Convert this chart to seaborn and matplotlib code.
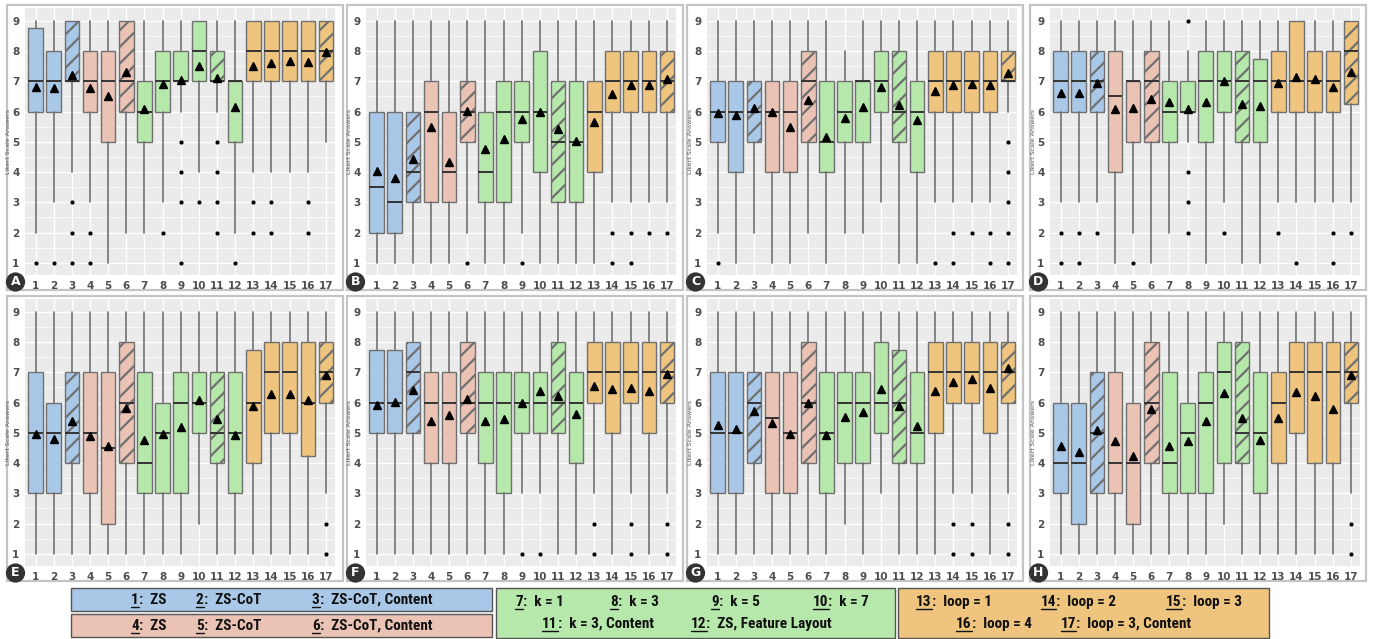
import matplotlib
matplotlib.use("Agg")
import matplotlib.pyplot as plt
import seaborn as sns
from matplotlib import font_manager
from matplotlib.patches import Rectangle
from matplotlib.lines import Line2D

# ---- data (17 configurations each) ----
configs = list(range(1, 18))
hatched = [3, 6, 11, 17]
panel_names = ["A", "B", "C", "D", "E", "F", "G", "H"]

A_lo = [2, 3, 4, 3, 1, 2, 2, 3, 6, 4, 6, 2, 4, 4, 4, 4, 5]
A_q1 = [6, 6, 7, 6, 5, 6, 5, 6, 7, 7, 7, 5, 7, 7, 7, 7, 7]
A_md = [7, 7, 7, 7, 7, 7, 6, 7, 7, 8, 7, 7, 8, 8, 8, 8, 8]
A_q3 = [8.75, 8, 9, 8, 8, 9, 7, 8, 8, 9, 8, 7, 9, 9, 9, 9, 9]
A_hi = [9, 9, 9, 9, 9, 9, 9, 9, 9, 9, 9, 9, 9, 9, 9, 9, 9]
A_mean = [6.82, 6.78, 7.2, 6.78, 6.52, 7.3, 6.1, 6.92, 7.05, 7.5, 7.1, 6.15, 7.52, 7.6, 7.68, 7.65, 7.98]
A_out = [[1], [1], [3, 2, 1], [2, 1], [], [], [], [2], [5, 4, 3, 1], [3], [5, 4, 3, 2], [1], [3, 2], [3, 2], [], [3, 2], []]

B_lo = [1, 1, 1, 1, 1, 2, 1, 1, 2, 1, 1, 1, 1, 3, 3, 3, 3]
B_q1 = [2, 2, 3, 3, 3, 5, 3, 3, 5, 4, 3, 3, 4, 6, 6, 6, 6]
B_md = [3.5, 3, 4, 6, 4, 6, 4, 6, 6, 6, 5, 5, 6, 7, 7, 7, 7]
B_q3 = [6, 6, 6, 7, 6, 7, 6, 7, 7, 8, 7, 7, 7, 8, 8, 8, 8]
B_hi = [9, 9, 9, 9, 9, 9, 9, 9, 9, 9, 9, 9, 9, 9, 9, 9, 9]
B_mean = [4.05, 3.82, 4.42, 5.48, 4.33, 6.02, 4.75, 5.1, 5.75, 5.98, 5.42, 5.02, 5.65, 6.58, 6.87, 6.88, 7.08]
B_out = [[], [], [], [], [], [1], [], [], [1], [], [], [], [], [2, 1], [2, 1], [2], [2]]

C_lo = [2, 1, 2, 1, 1, 2, 1, 2, 2, 3, 1, 1, 3, 3, 3, 3, 6]
C_q1 = [5, 4, 5, 4, 4, 5, 4, 5, 5, 6, 5, 4, 6, 6, 6, 6, 7]
C_md = [6, 6, 6, 6, 6, 7, 5, 6, 7, 7, 6, 6, 7, 7, 7, 7, 7]
C_q3 = [7, 7, 7, 7, 7, 8, 7, 7, 7, 8, 8, 7, 8, 8, 8, 8, 8]
C_hi = [9, 9, 9, 9, 9, 9, 9, 8, 9, 9, 9, 9, 9, 9, 9, 9, 9]
C_mean = [5.95, 5.88, 6.12, 5.98, 5.5, 6.38, 5.15, 5.8, 6.15, 6.82, 6.2, 5.72, 6.68, 6.87, 6.9, 6.87, 7.28]
C_out = [[1], [], [], [], [], [], [], [], [], [], [], [], [1], [2, 1], [2], [2, 1], [5, 4, 3, 2, 1]]

D_lo = [3, 3, 3, 1, 2, 1, 2, 5, 1, 3, 1, 1, 3, 3, 3, 3, 3]
D_q1 = [6, 6, 6, 4, 5, 5, 5, 6, 5, 6, 5, 5, 6, 6, 6, 6, 6.25]
D_md = [7, 7, 7, 6.5, 7, 7, 6, 6, 7, 7, 7, 7, 7, 7, 7, 7, 8]
D_q3 = [8, 8, 8, 8, 7, 8, 7, 7, 8, 8, 8, 7.75, 8, 9, 8, 8, 9]
D_hi = [9, 9, 9, 9, 9, 9, 9, 8, 9, 9, 9, 9, 9, 9, 9, 9, 9]
D_mean = [6.6, 6.6, 6.95, 6.08, 6.12, 6.42, 6.3, 6.1, 6.3, 7.02, 6.25, 6.18, 6.95, 7.15, 7.08, 6.82, 7.3]
D_out = [[2, 1], [2, 1], [2], [], [1], [], [], [9, 4, 3, 2], [], [2], [], [], [2], [1], [], [2, 1], [2]]

E_lo = [1, 1, 1, 1, 1, 1, 1, 1, 1, 2, 1, 1, 1, 1, 1, 1, 3]
E_q1 = [3, 3, 4, 3, 2, 4, 3, 3, 3, 5, 4, 3, 4, 5, 5, 4.25, 6]
E_md = [5, 5, 5, 5, 4.5, 6, 4, 5, 6, 6, 5, 5, 6, 7, 7, 6, 7]
E_q3 = [7, 6, 7, 7, 7, 8, 7, 6, 7, 7, 7, 7, 7.75, 8, 8, 8, 8]
E_hi = [9, 9, 9, 9, 9, 9, 9, 9, 9, 9, 9, 9, 9, 9, 9, 9, 9]
E_mean = [4.95, 4.8, 5.4, 4.88, 4.55, 5.82, 4.75, 4.97, 5.18, 6.07, 5.45, 4.92, 5.88, 6.27, 6.27, 6.08, 6.92]
E_out = [[], [], [], [], [], [], [], [], [], [], [], [], [], [], [], [], [2, 1]]

F_lo = [1, 1, 1, 1, 1, 1, 1, 1, 3, 3, 1, 1, 3, 1, 3, 1, 3]
F_q1 = [5, 5, 5, 4, 4, 5, 4, 3, 5, 5, 5, 4, 6, 5, 6, 5, 6]
F_md = [6, 6, 7, 6, 6, 6, 6, 6, 6, 6, 6, 6, 7, 7, 7, 7, 7]
F_q3 = [7.75, 7.75, 8, 7, 7, 8, 7, 7, 7, 7, 8, 7, 8, 8, 8, 8, 8]
F_hi = [9, 9, 9, 9, 9, 9, 9, 9, 9, 9, 9, 9, 9, 9, 9, 9, 9]
F_mean = [5.92, 6.03, 6.42, 5.38, 5.6, 6.12, 5.38, 5.47, 6.0, 6.38, 6.2, 5.63, 6.55, 6.45, 6.47, 6.38, 6.95]
F_out = [[], [], [], [], [], [], [], [], [1], [1], [], [], [2, 1], [], [2, 1], [], [2, 1]]

G_lo = [1, 1, 1, 1, 1, 1, 1, 2, 1, 3, 1, 1, 1, 3, 3, 1, 3]
G_q1 = [3, 3, 4, 3, 3, 4, 3, 4, 4, 5, 4, 4, 5, 6, 6, 5, 6]
G_md = [5, 5, 6, 5.5, 5, 6, 5, 6, 6, 6, 6, 5, 7, 7, 7, 7, 7]
G_q3 = [7, 7, 7, 7, 7, 8, 7, 7, 7, 8, 7.75, 7, 8, 8, 8, 8, 8]
G_hi = [9, 9, 9, 9, 9, 9, 9, 9, 9, 9, 9, 9, 9, 9, 9, 9, 9]
G_mean = [5.27, 5.12, 5.72, 5.32, 4.95, 5.97, 4.92, 5.52, 5.7, 6.45, 5.9, 5.22, 6.37, 6.67, 6.78, 6.48, 7.15]
G_out = [[], [], [], [], [], [], [], [], [], [], [], [], [], [2, 1], [2, 1], [], [2, 1]]

H_lo = [1, 1, 1, 1, 1, 1, 1, 1, 1, 2, 1, 1, 1, 1, 1, 1, 3]
H_q1 = [3, 2, 3, 3, 2, 4, 3, 3, 3, 4, 4, 3, 4, 5, 4, 4, 6]
H_md = [4, 4, 5, 4, 4, 6, 4, 5, 6, 7, 5, 5, 6, 7, 7, 7, 7]
H_q3 = [6, 6, 7, 7, 6, 8, 7, 6, 7, 8, 8, 7, 7, 8, 8, 8, 8]
H_hi = [9, 9, 9, 9, 9, 9, 9, 9, 9, 9, 9, 9, 9, 9, 9, 9, 9]
H_mean = [4.55, 4.37, 5.1, 4.73, 4.23, 5.8, 4.55, 4.73, 5.4, 6.32, 5.48, 4.75, 5.48, 6.35, 6.23, 5.8, 6.9]
H_out = [[], [], [], [], [], [], [], [], [], [], [], [], [], [], [], [], [2, 1]]

panels = {
    "A": (A_lo, A_q1, A_md, A_q3, A_hi, A_mean, A_out),
    "B": (B_lo, B_q1, B_md, B_q3, B_hi, B_mean, B_out),
    "C": (C_lo, C_q1, C_md, C_q3, C_hi, C_mean, C_out),
    "D": (D_lo, D_q1, D_md, D_q3, D_hi, D_mean, D_out),
    "E": (E_lo, E_q1, E_md, E_q3, E_hi, E_mean, E_out),
    "F": (F_lo, F_q1, F_md, F_q3, F_hi, F_mean, F_out),
    "G": (G_lo, G_q1, G_md, G_q3, G_hi, G_mean, G_out),
    "H": (H_lo, H_q1, H_md, H_q3, H_hi, H_mean, H_out),
}

# legend texts: (number, label)
legend_blue = [("1", "ZS"), ("2", "ZS-CoT"), ("3", "ZS-CoT, Content")]
legend_pink = [("4", "ZS"), ("5", "ZS-CoT"), ("6", "ZS-CoT, Content")]
legend_green1 = [("7", "k = 1"), ("8", "k = 3"), ("9", "k = 5"), ("10", "k = 7")]
legend_green2 = [("11", "k = 3, Content"), ("12", "ZS, Feature Layout")]
legend_orange1 = [("13", "loop = 1"), ("14", "loop = 2"), ("15", "loop = 3")]
legend_orange2 = [("16", "loop = 4"), ("17", "loop = 3, Content")]

BLUE, PINK, GREEN, ORANGE = "#A9C8E8", "#EBC3B4", "#B5E8AA", "#EEC47F"
group_color = [BLUE] * 3 + [PINK] * 3 + [GREEN] * 6 + [ORANGE] * 5

# ---- style ----
sns.set_theme(style="darkgrid", rc={
    "axes.facecolor": "#EBEBEB",
    "grid.color": "white",
    "hatch.linewidth": 1.6,
})

installed = {f.name for f in font_manager.fontManager.ttflist}
legend_font = "DejaVu Sans"
for cand in ["Liberation Sans Narrow", "Roboto Condensed", "DejaVu Sans Condensed", "Liberation Sans"]:
    if cand in installed:
        legend_font = cand
        break

W, H = 1374, 639
fig = plt.figure(figsize=(W / 100, H / 100), dpi=100)
fig.patch.set_facecolor("white")

ax_left = [25, 366, 707, 1050]
ax_top = [8, 299]
ax_w, ax_h = 310, 267
frame_left = [7, 347, 687, 1030]
frame_top = [5, 296]
frame_w, frame_h = 336, 285

for i, name in enumerate(panel_names):
    row, col = divmod(i, 4)
    # panel frame
    fig.add_artist(Rectangle((frame_left[col] / W, 1 - (frame_top[row] + frame_h) / H),
                             frame_w / W, frame_h / H, transform=fig.transFigure,
                             facecolor="white", edgecolor="#C4C4C4", lw=1.6, zorder=0))
    ax = fig.add_axes([ax_left[col] / W, 1 - (ax_top[row] + ax_h) / H, ax_w / W, ax_h / H])
    lo, q1, md, q3, hi, mean, out = panels[name]
    stats = []
    for k in range(17):
        stats.append({"whislo": lo[k], "q1": q1[k], "med": md[k], "q3": q3[k],
                      "whishi": hi[k], "mean": mean[k], "fliers": out[k]})
    bp = ax.bxp(stats, positions=configs, widths=0.8, patch_artist=True,
                showmeans=True, showcaps=False,
                boxprops=dict(edgecolor="#707070", linewidth=1.0),
                medianprops=dict(color="#333333", linewidth=1.4),
                whiskerprops=dict(color="#6F6F6F", linewidth=1.2),
                meanprops=dict(marker="^", markerfacecolor="black", markeredgecolor="black", markersize=5.5),
                flierprops=dict(marker="o", markerfacecolor="black", markeredgecolor="black", markersize=2))
    for k, box in enumerate(bp["boxes"]):
        box.set_facecolor(group_color[k])
        if configs[k] in hatched:
            box.set_hatch("//")
    ax.set_xlim(0.42, 17.5)
    ax.set_ylim(0.6, 9.42)
    ax.set_yticks(range(1, 10))
    ax.set_yticks([x + 0.5 for x in range(1, 9)], minor=True)
    ax.set_xticks(configs)
    ax.set_xticklabels([str(c) for c in configs])
    ax.grid(which="major", color="white", linewidth=1.0)
    ax.grid(which="minor", axis="y", color="white", linewidth=0.5)
    ax.tick_params(axis="both", which="major", labelsize=7.5, labelcolor="#4D4D4D",
                   length=2.5, width=0.6, color="#333333", pad=1.5)
    ax.tick_params(which="minor", length=0)
    for lab in ax.get_xticklabels() + ax.get_yticklabels():
        lab.set_fontweight("bold")
    ax.set_ylabel("Likert Scale Answers", fontsize=4.5, color="#555555", labelpad=1)
    ax.set_xlabel("")
    for s in ax.spines.values():
        s.set_visible(False)
    # panel letter badge
    fig.text((frame_left[col] + 8.5) / W, 1 - (frame_top[row] + 277) / H, name,
             ha="center", va="center", color="white", fontsize=9, fontweight="bold",
             bbox=dict(boxstyle="circle,pad=0.25", fc="#333333", ec="none"), zorder=5)

# ---- legend boxes ----
renderer = fig.canvas.get_renderer()


def legend_box(x0, y0, x1, y1, color):
    fig.add_artist(Rectangle((x0 / W, 1 - y1 / H), (x1 - x0) / W, (y1 - y0) / H,
                             transform=fig.transFigure, facecolor=color,
                             edgecolor="#555555", lw=1.0))


def legend_row(items, xs, y):
    for (num, lab), x in zip(items, xs):
        t = fig.text(x / W, 1 - y / H, num, ha="left", va="center", fontsize=11,
                     fontweight="bold", family=legend_font, color="#111111")
        bb = t.get_window_extent(renderer)
        uy = (bb.y0 + 0.5) / H
        fig.add_artist(Line2D([bb.x0 / W, bb.x1 / W], [uy, uy], transform=fig.transFigure,
                              color="#111111", lw=1.0))
        fig.text(bb.x1 / W, 1 - y / H, ":  " + lab, ha="left", va="center", fontsize=11,
                 fontweight="bold", family=legend_font, color="#111111")


legend_box(71, 588, 492, 611, BLUE)
legend_box(71, 614, 492, 637, PINK)
legend_box(496, 588, 895, 638, GREEN)
legend_box(898, 588, 1269, 638, ORANGE)

legend_row(legend_blue, [131, 196, 312], 600)
legend_row(legend_pink, [131, 196, 312], 626)
legend_row(legend_green1, [515, 610, 711, 813], 602)
legend_row(legend_green2, [542, 691], 624)
legend_row(legend_orange1, [916, 1041, 1166], 602)
legend_row(legend_orange2, [956, 1061], 624)

fig.savefig("out.png", dpi=100)
